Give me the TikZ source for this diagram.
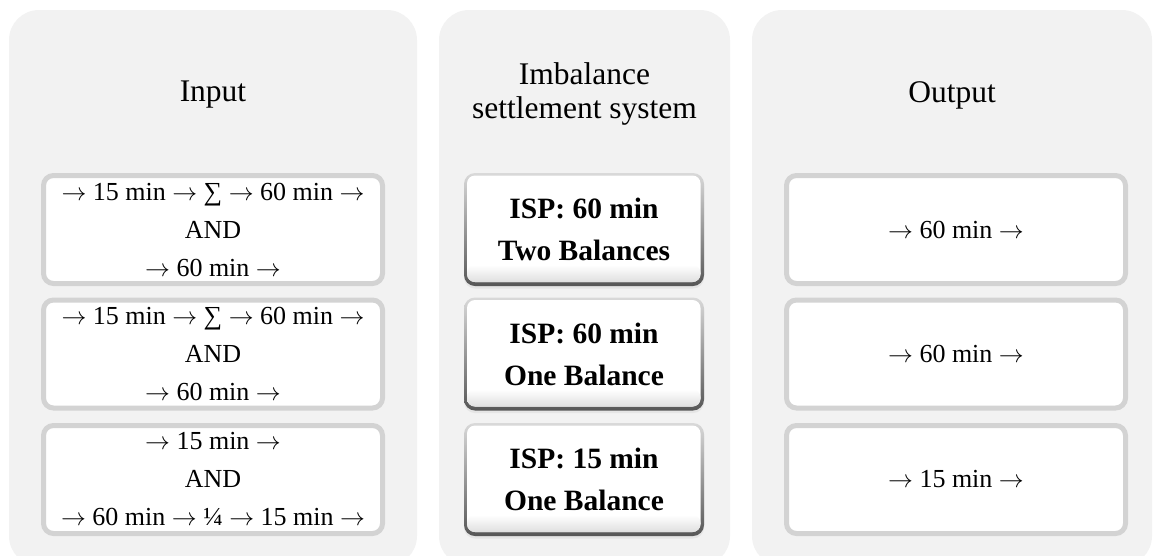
\documentclass[tikz,border=0pt]{standalone}
\usepackage{fontspec}
\setmainfont{Liberation Serif}
\newcommand{\ar}{$\to$}
\begin{document}
\begin{tikzpicture}[x=1pt,y=-1pt,
  panel/.style={fill=panelbg, rounded corners=30pt},
  title/.style={align=center, font=\fontsize{31.5}{34}\selectfont, inner sep=0pt},
  flowbox/.style={draw=boxedge, line width=5pt, fill=white, rounded corners=10pt,
    minimum width=339pt, minimum height=108pt, inner sep=0pt, align=center,
    font=\fontsize{26}{38}\selectfont},
  ispbox/.style={rounded corners=11pt, minimum width=240pt, minimum height=113pt,
    inner sep=0pt, align=center, font=\fontsize{29.5}{42}\selectfont\bfseries,
    top color=gray!30, bottom color=gray!68!black,
    preaction={fill=black!10, transform canvas={yshift=-2.5pt}},
    path picture={\fill[white, rounded corners=8pt]
      ([shift={(3pt,-2.5pt)}]path picture bounding box.north west) rectangle
      ([shift={(-3.5pt,4pt)}]path picture bounding box.south east);
      \shade[top color=white, bottom color=gray!25, rounded corners=8pt]
      ([shift={(3pt,-92pt)}]path picture bounding box.north west) rectangle
      ([shift={(-3.5pt,4pt)}]path picture bounding box.south east);}}
]
\definecolor{panelbg}{HTML}{F2F2F2}
\definecolor{boxedge}{HTML}{D3D3D3}
\useasboundingbox (0,0) rectangle (1155,555);

% column backgrounds
\fill[panel] (9,10) rectangle (417,566);
\fill[panel] (439,10) rectangle (730,566);
\fill[panel] (752,10) rectangle (1152,566);

% column headings
\node[title] (tin) at (213,95) {Input};
\node[title] (tmid) at (584.5,94) {Imbalance\\settlement system};
\node[title] (tout) at (952,95) {Output};

% input column
\node[flowbox] (in1) at (213,229.5) {\ar{} 15 min \ar{} ∑ \ar{} 60 min \ar\\AND\\\ar{} 60 min \ar};
\node[flowbox] (in2) at (213,354) {\ar{} 15 min \ar{} ∑ \ar{} 60 min \ar\\AND\\\ar{} 60 min \ar};
\node[flowbox] (in3) at (213,479.5) {\ar{} 15 min \ar\\AND\\\ar{} 60 min \ar{} ¼ \ar{} 15 min \ar};

% settlement column
\node[ispbox] (isp1) at (584,229.5) {ISP: 60 min\\Two Balances};
\node[ispbox] (isp2) at (584,354) {ISP: 60 min\\One Balance};
\node[ispbox] (isp3) at (584,479.5) {ISP: 15 min\\One Balance};

% output column
\node[flowbox] (out1) at (956,229.5) {\ar{} 60 min \ar};
\node[flowbox] (out2) at (956,354) {\ar{} 60 min \ar};
\node[flowbox] (out3) at (956,479.5) {\ar{} 15 min \ar};
\end{tikzpicture}
\end{document}
